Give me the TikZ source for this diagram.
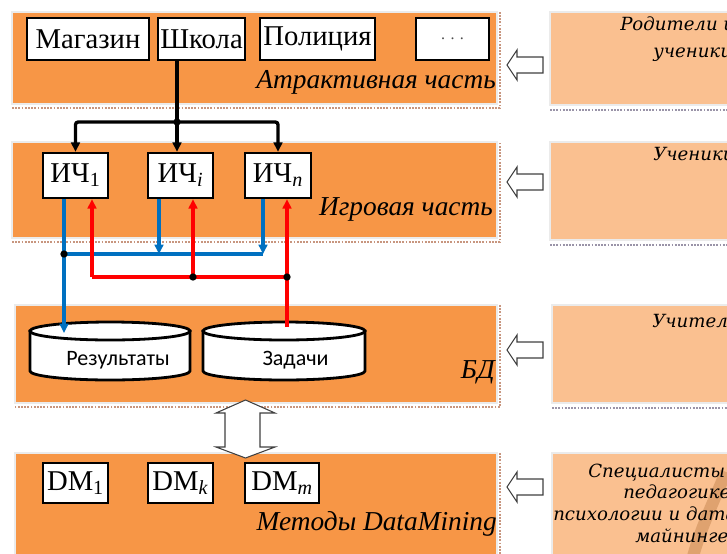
\documentclass[tikz,border=0pt]{standalone}
\usepackage{fontspec}
\setmainfont{Liberation Serif}
\newfontfamily\carl{Carlito}
\newfontfamily\dvs{DejaVu Serif}
\usetikzlibrary{arrows.meta,calc}
\definecolor{orDark}{HTML}{F79646}
\definecolor{orLight}{HTML}{FAC090}
\definecolor{blueL}{HTML}{0070C0}
\definecolor{redL}{HTML}{FF0000}
\definecolor{shL}{HTML}{C8967F}
\definecolor{shR}{HTML}{9A94A8}
\definecolor{bandC}{HTML}{C98A55}
\begin{document}
\begin{tikzpicture}[x=0.75pt,y=-0.75pt,
  panelL/.style={fill=orDark,draw=black!8,line width=1.2pt},
  panelR/.style={fill=orLight,draw=black!8,line width=1.2pt},
  shadowL/.style={draw=shL,line width=1.4pt,densely dotted},
  shadowR/.style={draw=shR,line width=1.4pt,densely dotted},
  wbox/.style={draw=black,fill=white,line width=1.8pt,inner sep=0pt,
    font=\fontsize{21.5}{23}\selectfont},
  lbl/.style={anchor=base east,inner sep=0pt,font=\fontsize{20.5}{22}\selectfont\itshape},
  rtxt/.style={anchor=base west,inner sep=0pt,font=\dvs\fontsize{13.6}{15}\selectfont\itshape},
  blk/.style={draw=black,line width=2.5pt},
  bl/.style={draw=blueL,line width=2.3pt},
  rd/.style={draw=redL,line width=2.3pt},
  tip/.style={-{Triangle[length=7pt,width=6.5pt]}},
  jdot/.style={fill=black,circle,inner sep=0pt,minimum size=5.5pt},
  hollow/.style={draw=black!75,fill=white,line width=0.8pt,line join=miter},
  cyl/.style={draw=black,fill=white,line width=2.1pt}
]
\useasboundingbox (0,0) rectangle (727,553);
\clip (0,0) rectangle (727,553);

% ---------- panels ----------
\path[panelL] (12,12) rectangle (497,104);
\draw[shadowL] (12,108) -- (500,108) -- (500,12);
\path[panelL] (12,142) rectangle (497,238);
\draw[shadowL] (12,242) -- (500,242) -- (500,142);
\path[panelL] (15,305) rectangle (497,403);
\draw[shadowL] (500,305) -- (500,407) -- (15,407);
\path[panelL] (15,453) rectangle (497,570);
\draw[shadowL] (500,453) -- (500,570);

\path[panelR] (550,12) rectangle (745,105);
\draw[shadowR] (550,110) -- (745,110);
\path[panelR] (550,142) rectangle (745,240);
\draw[shadowR] (550,245) -- (745,245);
\path[panelR] (552,305) rectangle (745,403);
\draw[shadowR] (552,408) -- (745,408);
\path[panelR] (552,453) rectangle (745,570);

% faint band in the last right panel
\draw[bandC,opacity=0.55,line width=9pt] (726,472) .. controls (712,505) and (700,530) .. (692,560);

% ---------- attractive part ----------
\node[wbox,minimum width=91.5pt,minimum height=31.5pt] (mag) at (88,39) {Магазин};
\node[wbox,minimum width=65.25pt,minimum height=31.5pt] (shk) at (201.5,39) {Школа};
\node[wbox,minimum width=86.25pt,minimum height=31.5pt] (pol) at (317.5,39) {Полиция};
\node[wbox,minimum width=54.75pt,minimum height=31.5pt,font=\fontsize{12}{14}\selectfont\color{black!70}] (dots) at (452.5,39) {. . .};
\node[lbl] (lab1) at (496,88) {Атрактивная часть};

% ---------- game part ----------
\node[wbox,minimum width=48.75pt,minimum height=33.75pt] (ich1) at (75.5,175.5) {ИЧ\textsubscript{1}};
\node[wbox,minimum width=48.75pt,minimum height=33.75pt] (ichi) at (180.5,175.5) {ИЧ\textsubscript{\textit{i}}};
\node[wbox,minimum width=49.5pt,minimum height=33.75pt] (ichn) at (278,175.5) {ИЧ\textsubscript{\textit{n}}};
\node[lbl] (lab2) at (493,215) {Игровая часть};

% ---------- database ----------
\path[cyl] (30,331) -- (30,371) arc[start angle=180,end angle=0,x radius=80,y radius=9] -- (190,331) -- cycle;
\draw[cyl] (110,331) ellipse [x radius=80,y radius=9];
\path[cyl] (203,331) -- (203,371) arc[start angle=180,end angle=0,x radius=81,y radius=9] -- (365,331) -- cycle;
\draw[cyl] (284,331) ellipse [x radius=81,y radius=9];
\node[font=\carl\fontsize{16.5}{18}\selectfont,inner sep=0pt] (res) at (118,360) {Результаты};
\node[font=\carl\fontsize{16.5}{18}\selectfont,inner sep=0pt] (zad) at (295.5,360) {Задачи};
\node[lbl] (lab3) at (495,378) {БД};

% ---------- data mining ----------
\node[wbox,minimum width=48.75pt,minimum height=30pt] (dm1) at (75.5,483) {DM\textsubscript{1}};
\node[wbox,minimum width=48.75pt,minimum height=30pt] (dmk) at (180.5,483) {DM\textsubscript{\textit{k}}};
\node[wbox,minimum width=55.5pt,minimum height=30pt] (dmm) at (282,483) {DM\textsubscript{\textit{m}}};
\node[lbl] (lab4) at (497,530) {Методы DataMining};

% ---------- right panel texts (cut by the picture's edge as in the original) ----------
\node[rtxt] (r1a) at (620,31) {Родители и};
\node[rtxt] (r1b) at (653,57) {ученики};
\node[rtxt] (r2) at (653,160) {Ученики};
\node[rtxt] (r3) at (652,327) {Учителя};
\node[rtxt] (r4a) at (588,477) {Специалисты в};
\node[rtxt] (r4b) at (623,498) {педагогике,};
\node[rtxt] (r4c) at (553,520) {психологии и дата};
\node[rtxt] (r4d) at (635,542) {майнинге};

% ---------- black connectors ----------
\coordinate (jb) at (177,122);
\draw[blk] (shk.south -| jb) -- (jb);
\draw[blk,tip,rounded corners=2pt] (jb) -| (ich1.north);
\draw[blk,tip] (jb) -- (jb |- ichi.north);
\draw[blk,tip,rounded corners=2pt] (jb) -| (ichn.north);
\node[jdot] at (jb) {};

% ---------- blue connectors ----------
\coordinate (bj) at (64,254);
\coordinate (bi) at (159,254);
\coordinate (bn) at (263,254);
\coordinate (resIn) at (64,333);
\draw[bl] (bj) -- (bn);
\draw[bl,tip] (ichi.south -| bi) -- (bi);
\draw[bl,tip] (ichn.south -| bn) -- (bn);
\draw[bl,tip] (ich1.south -| bj) -- (resIn);
\node[jdot] at (bj) {};

% ---------- red connectors ----------
\coordinate (rj) at (287,277);
\coordinate (ri) at (193,277);
\coordinate (r1) at (92,277);
\coordinate (zadOut) at (287,327);
\draw[rd] (rj) -- (r1);
\draw[rd,tip] (zadOut) -- (ichn.south -| rj);
\draw[rd,tip] (ri) -- (ichi.south -| ri);
\draw[rd,tip] (r1) -- (ich1.south -| r1);
\node[jdot] at (ri) {};
\node[jdot] at (rj) {};

% ---------- hollow arrows ----------
\foreach \yy in {65,182,350,487} {
  \draw[hollow] (507,\yy) -- (517,\yy-15) -- (517,\yy-8) -- (543,\yy-8) -- (543,\yy+8) -- (517,\yy+8) -- (517,\yy+15) -- cycle;
}
\draw[hollow] (245.5,400) -- (275,413) -- (260,413) -- (260,447) -- (275,447) -- (245.5,458) -- (216,447) -- (225,447) -- (225,413) -- (216,413) -- cycle;
\end{tikzpicture}
\end{document}
